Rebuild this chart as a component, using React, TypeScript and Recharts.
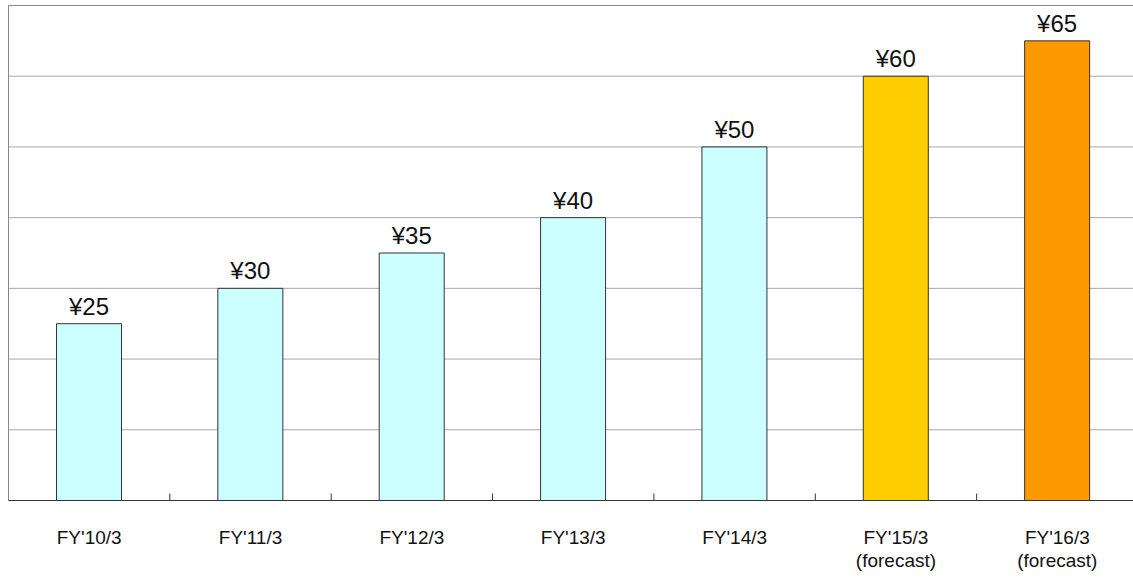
import React from 'react';
import { BarChart, Bar, Cell, XAxis, YAxis, CartesianGrid, ReferenceLine, LabelList } from 'recharts';

const fiscalYears = ["FY'10/3", "FY'11/3", "FY'12/3", "FY'13/3", "FY'14/3", "FY'15/3", "FY'16/3"];
const yearNotes = ['', '', '', '', '', '(forecast)', '(forecast)'];
const dividends = [25, 30, 35, 40, 50, 60, 65];
const yTicks = [0, 10, 20, 30, 40, 50, 60, 70];
const barColors = ['#ccffff', '#ccffff', '#ccffff', '#ccffff', '#ccffff', '#ffcc00', '#ff9900'];

const data = fiscalYears.map((name, i) => ({ name, note: yearNotes[i], value: dividends[i] }));

const FONT = '"Liberation Sans", Arial, sans-serif';

// category label plus a small tick mark on the left band boundary
function YearTick(props: any) {
  const { x, y, payload, index } = props;
  const edge = x - (payload.offset || 0);
  const note = yearNotes[index];
  return (
    <g>
      {index > 0 && <line x1={edge} y1={y} x2={edge} y2={y - 7} stroke="#333" strokeWidth={1} />}
      <text x={x} y={y + 43.5} textAnchor="middle" fontSize={19} fill="#111" fontFamily={FONT}>
        {payload.value}
      </text>
      {note && (
        <text x={x} y={y + 66} textAnchor="middle" fontSize={19} fill="#111" fontFamily={FONT}>
          {note}
        </text>
      )}
    </g>
  );
}

export default function App() {
  return (
    <div style={{ position: 'absolute', left: 0, top: 0, width: 1133, height: 580, overflow: 'hidden', background: '#fff' }}>
      <BarChart
        width={1138}
        height={580}
        data={data}
        margin={{ top: 5.5, right: 0, bottom: 0, left: 0 }}
        barCategoryGap={0}
        style={{ fontFamily: FONT }}
      >
        <CartesianGrid vertical={false} horizontalValues={yTicks} stroke="#a8a8a8" strokeWidth={1} />
        <YAxis
          domain={[0, 70]}
          ticks={yTicks}
          width={8.5}
          tick={() => <g />}
          tickLine={false}
          axisLine={{ stroke: '#888', strokeWidth: 1 }}
        />
        <XAxis
          dataKey="name"
          interval={0}
          tickSize={0}
          tickMargin={0}
          tickLine={false}
          axisLine={{ stroke: '#333', strokeWidth: 1 }}
          tick={<YearTick />}
          height={79.5}
        />
        <ReferenceLine y={70} stroke="#888" strokeWidth={1} />
        <Bar dataKey="value" barSize={65} stroke="#333" strokeWidth={1} isAnimationActive={false}>
          {data.map((d, i) => (
            <Cell key={d.name} fill={barColors[i]} />
          ))}
          <LabelList
            dataKey="value"
            position="top"
            offset={9}
            formatter={(v: any) => `¥${v}`}
            fontSize={24}
            fill="#111"
            fontFamily={FONT}
          />
        </Bar>
      </BarChart>
    </div>
  );
}
